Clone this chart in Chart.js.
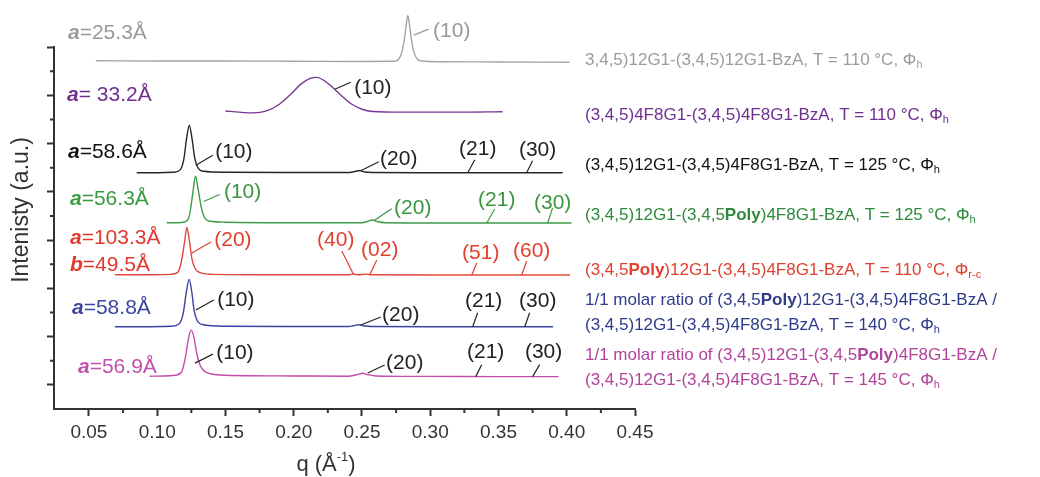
<!DOCTYPE html>
<html>
<head>
<meta charset="utf-8">
<script src="https://cdn.jsdelivr.net/npm/chart.js@4.4.0/dist/chart.umd.min.js"></script>
<style>
  html, body { margin: 0; padding: 0; background: #fff; }
  #wrap { width: 1040px; height: 477px; position: relative; }
</style>
</head>
<body>
<div id="wrap"><canvas id="saxs"></canvas></div>
<script>
// q (1/Å) and stacked intensity (a.u., offset per trace)
const grayQ = [0.055, 0.10, 0.15, 0.20, 0.25, 0.272, 0.276, 0.279, 0.281, 0.2825, 0.2835, 0.2845, 0.286, 0.288, 0.2905, 0.294, 0.30, 0.35, 0.402];
const grayI = [14.43, 14.42, 14.42, 14.41, 14.40, 14.41, 14.45, 14.75, 15.3, 15.95, 16.31, 16.05, 15.4, 14.8, 14.5, 14.42, 14.40, 14.38, 14.37];

const purpleQ = [0.150, 0.160, 0.170, 0.180, 0.190, 0.198, 0.205, 0.212, 0.217, 0.222, 0.228, 0.235, 0.242, 0.250, 0.258, 0.280, 0.320, 0.353];
const purpleI = [12.35, 12.30, 12.27, 12.35, 12.65, 13.05, 13.45, 13.70, 13.74, 13.62, 13.35, 12.98, 12.65, 12.42, 12.33, 12.30, 12.30, 12.32];

const blackQ = [0.085, 0.100, 0.112, 0.117, 0.1195, 0.1215, 0.1235, 0.1255, 0.1275, 0.130, 0.134, 0.150, 0.200, 0.241, 0.2455, 0.2485, 0.252, 0.258, 0.300, 0.350, 0.397];
const blackI = [9.79, 9.79, 9.81, 9.92, 10.35, 11.2, 11.76, 11.2, 10.4, 9.98, 9.85, 9.81, 9.80, 9.80, 9.85, 9.88, 9.82, 9.80, 9.79, 9.79, 9.79];

const greenQ = [0.107, 0.115, 0.120, 0.1235, 0.126, 0.128, 0.130, 0.1325, 0.135, 0.139, 0.150, 0.200, 0.250, 0.2545, 0.2575, 0.261, 0.267, 0.300, 0.350, 0.4035];
const greenI = [7.72, 7.72, 7.75, 8.0, 8.9, 9.65, 9.1, 8.3, 7.9, 7.78, 7.74, 7.72, 7.72, 7.78, 7.83, 7.77, 7.72, 7.71, 7.71, 7.71];

const redQ = [0.069, 0.090, 0.110, 0.115, 0.1175, 0.1200, 0.1217, 0.1235, 0.1255, 0.128, 0.132, 0.140, 0.200, 0.240, 0.2435, 0.247, 0.2535, 0.257, 0.300, 0.350, 0.4025];
const redI = [5.56, 5.56, 5.58, 5.66, 6.05, 6.9, 7.52, 7.0, 6.2, 5.8, 5.64, 5.58, 5.56, 5.56, 5.60, 5.56, 5.59, 5.56, 5.55, 5.55, 5.55];

const blueQ = [0.069, 0.090, 0.110, 0.116, 0.119, 0.1215, 0.1234, 0.1252, 0.127, 0.129, 0.133, 0.150, 0.200, 0.240, 0.2445, 0.2475, 0.251, 0.257, 0.300, 0.350, 0.390];
const blueI = [3.41, 3.41, 3.43, 3.52, 3.95, 4.9, 5.37, 4.9, 4.1, 3.7, 3.5, 3.43, 3.42, 3.42, 3.46, 3.49, 3.45, 3.42, 3.41, 3.41, 3.41];

const magentaQ = [0.0945, 0.105, 0.113, 0.118, 0.1205, 0.123, 0.1248, 0.1268, 0.129, 0.1315, 0.135, 0.140, 0.150, 0.200, 0.240, 0.246, 0.2505, 0.2545, 0.260, 0.300, 0.350, 0.394];
const magentaI = [1.36, 1.37, 1.40, 1.55, 2.1, 2.95, 3.27, 3.0, 2.3, 1.8, 1.55, 1.45, 1.40, 1.37, 1.36, 1.42, 1.48, 1.42, 1.37, 1.35, 1.34, 1.34];

// axis ticks
const xTicks = [0.05, 0.10, 0.15, 0.20, 0.25, 0.30, 0.35, 0.40, 0.45];
const xMinorTicks = [0.075, 0.125, 0.175, 0.225, 0.275, 0.325, 0.375, 0.425];
const yMajorTicks = [1, 3, 5, 7, 9, 11, 13, 15];
const yMinorTicks = [2, 4, 6, 8, 10, 12, 14];

const FONT = '"Liberation Sans", Arial, Helvetica, sans-serif';
const AXIS_COLOR = '#333';

const colors = {
    gray: '#a4a4a4',
    purple: '#7a3790',
    black: '#262626',
    green: '#3e9b46',
    red: '#e2473a',
    blue: '#3d43a0',
    magenta: '#c44aab'
};

// Peak index labels: foot in data coords, leader tip and text centre as pixel offsets from foot
const peakNotes = [
    { q: 0.2879, y: 15.49, tip: [15, -6], txt: [38, -4], t: '(10)', c: '#999' },
    { q: 0.2301, y: 13.25, tip: [16, -7], txt: [38, -1], t: '(10)', c: '#222' },

    { q: 0.1283, y: 10.10, tip: [17, -10], txt: [38, -13], t: '(10)', c: '#222' },
    { q: 0.2491, y: 9.87, tip: [18, -9], txt: [38, -12], t: '(20)', c: '#222' },
    { q: 0.3275, y: 9.79, tip: [7, -13], txt: [10, -24], t: '(21)', c: '#222' },
    { q: 0.3706, y: 9.79, tip: [6, -12], txt: [11, -23], t: '(30)', c: '#222' },

    { q: 0.1340, y: 8.60, tip: [16, -7], txt: [39, -9], t: '(10)', c: '#3a963f' },
    { q: 0.2586, y: 7.80, tip: [18, -12], txt: [39, -13], t: '(20)', c: '#3a963f' },
    { q: 0.3414, y: 7.71, tip: [8, -14], txt: [10, -23], t: '(21)', c: '#3a963f' },
    { q: 0.3860, y: 7.71, tip: [5, -15], txt: [5, -20], t: '(30)', c: '#3a963f' },

    { q: 0.1254, y: 6.46, tip: [19, -11], txt: [41, -13], t: '(20)', c: '#e0402e' },
    { q: 0.2440, y: 5.55, tip: [-12, -24], txt: [-18, -35], t: '(40)', c: '#e0402e' },
    { q: 0.2557, y: 5.55, tip: [7, -15], txt: [10, -25], t: '(02)', c: '#e0402e' },
    { q: 0.3304, y: 5.55, tip: [5, -12], txt: [9, -22], t: '(51)', c: '#e0402e' },
    { q: 0.3670, y: 5.55, tip: [5, -14], txt: [10, -24], t: '(60)', c: '#e0402e' },

    { q: 0.1283, y: 4.10, tip: [18, -10], txt: [40, -10], t: '(10)', c: '#222' },
    { q: 0.2491, y: 3.48, tip: [20, -8], txt: [40, -10], t: '(20)', c: '#222' },
    { q: 0.3311, y: 3.41, tip: [5, -14], txt: [11, -26], t: '(21)', c: '#222' },
    { q: 0.3692, y: 3.41, tip: [5, -14], txt: [13, -26], t: '(30)', c: '#222' },

    { q: 0.1276, y: 1.90, tip: [18, -9], txt: [40, -10], t: '(10)', c: '#222' },
    { q: 0.2542, y: 1.49, tip: [17, -8], txt: [37, -10], t: '(20)', c: '#222' },
    { q: 0.3333, y: 1.34, tip: [6, -12], txt: [10, -24], t: '(21)', c: '#222' },
    { q: 0.3750, y: 1.34, tip: [7, -12], txt: [11, -24], t: '(30)', c: '#222' }
];

// lattice parameter labels on the left (pixel layout)
const cellLabels = [
    { x: 68, y: 33, c: '#9a9a9a', parts: [{ t: 'a', bi: true }, { t: '=25.3Å' }] },
    { x: 67, y: 95, c: '#6f2f8f', parts: [{ t: 'a', bi: true }, { t: '= 33.2Å' }] },
    { x: 68, y: 152, c: '#111', parts: [{ t: 'a', bi: true }, { t: '=58.6Å' }] },
    { x: 70, y: 199, c: '#3a9a40', parts: [{ t: 'a', bi: true }, { t: '=56.3Å' }] },
    { x: 70, y: 238, c: '#e03a2e', parts: [{ t: 'a', bi: true }, { t: '=103.3Å' }] },
    { x: 70, y: 265, c: '#e03a2e', parts: [{ t: 'b', bi: true }, { t: '=49.5Å' }] },
    { x: 72, y: 308, c: '#3a45a0', parts: [{ t: 'a', bi: true }, { t: '=58.8Å' }] },
    { x: 78, y: 367, c: '#c050b0', parts: [{ t: 'a', bi: true }, { t: '=56.9Å' }] }
];

// sample descriptions on the right
const sampleLabels = [
    { y: 60, c: '#9c9c9c', parts: [{ t: '3,4,5)12G1-(3,4,5)12G1-BzA, T = 110 °C, Φ' }, { t: 'h', sub: true }] },
    { y: 115, c: '#6f2f8f', parts: [{ t: '(3,4,5)4F8G1-(3,4,5)4F8G1-BzA, T = 110 °C, Φ' }, { t: 'h', sub: true }] },
    { y: 165, c: '#111', parts: [{ t: '(3,4,5)12G1-(3,4,5)4F8G1-BzA, T = 125 °C, Φ' }, { t: 'h', sub: true }] },
    { y: 215, c: '#2f8a3c', parts: [{ t: '(3,4,5)12G1-(3,4,5' }, { t: 'Poly', b: true }, { t: ')4F8G1-BzA, T = 125 °C, Φ' }, { t: 'h', sub: true }] },
    { y: 270, c: '#e0402e', parts: [{ t: '(3,4,5' }, { t: 'Poly', b: true }, { t: ')12G1-(3,4,5)4F8G1-BzA, T = 110 °C, Φ' }, { t: 'r-c', sub: true }] },
    { y: 300, c: '#2d3b8a', parts: [{ t: '1/1 molar ratio of (3,4,5' }, { t: 'Poly', b: true }, { t: ')12G1-(3,4,5)4F8G1-BzA /' }] },
    { y: 325, c: '#2d3b8a', parts: [{ t: '(3,4,5)12G1-(3,4,5)4F8G1-BzA, T = 140 °C, Φ' }, { t: 'h', sub: true }] },
    { y: 355, c: '#b0449c', parts: [{ t: '1/1 molar ratio of (3,4,5)12G1-(3,4,5' }, { t: 'Poly', b: true }, { t: ')4F8G1-BzA /' }] },
    { y: 380, c: '#b0449c', parts: [{ t: '(3,4,5)12G1-(3,4,5)4F8G1-BzA, T = 145 °C, Φ' }, { t: 'h', sub: true }] }
];

function series(q, intensity, color) {
    return {
        data: q.map((x, i) => ({ x: x, y: intensity[i] })),
        borderColor: color,
        borderWidth: 1.4,
        pointRadius: 0,
        cubicInterpolationMode: 'monotone',
        fill: false,
        clip: false
    };
}

// draws a run of text pieces with bold / italic / subscript parts
function drawRich(ctx, x, y, parts, size, color) {
    ctx.fillStyle = color;
    ctx.textAlign = 'left';
    ctx.textBaseline = 'middle';
    parts.forEach(p => {
        let fs = p.sub ? Math.round(size * 0.62) : size;
        let style = (p.bi ? 'italic bold ' : '') + (p.b ? 'bold ' : '');
        ctx.font = style + fs + 'px ' + FONT;
        ctx.fillText(p.t, x, p.sub ? y + size * 0.3 : y);
        x += ctx.measureText(p.t).width;
    });
}

const decorations = {
    id: 'decorations',
    afterDraw(chart) {
        const ctx = chart.ctx;
        const xs = chart.scales.x;
        const ys = chart.scales.y;
        const area = chart.chartArea;
        ctx.save();

        // minor ticks
        ctx.strokeStyle = AXIS_COLOR;
        ctx.lineWidth = 2;
        ctx.beginPath();
        xMinorTicks.forEach(v => {
            const px = xs.getPixelForValue(v);
            ctx.moveTo(px, area.bottom);
            ctx.lineTo(px, area.bottom + 4);
        });
        yMinorTicks.forEach(v => {
            const py = ys.getPixelForValue(v);
            ctx.moveTo(area.left, py);
            ctx.lineTo(area.left - 4, py);
        });
        ctx.stroke();

        // peak index labels with leader lines
        ctx.lineWidth = 1.2;
        peakNotes.forEach(n => {
            const fx = xs.getPixelForValue(n.q);
            const fy = ys.getPixelForValue(n.y);
            ctx.strokeStyle = n.c;
            ctx.beginPath();
            ctx.moveTo(fx, fy);
            ctx.lineTo(fx + n.tip[0], fy + n.tip[1]);
            ctx.stroke();
            ctx.fillStyle = n.c;
            ctx.font = '21px ' + FONT;
            ctx.textAlign = 'center';
            ctx.textBaseline = 'middle';
            ctx.fillText(n.t, fx + n.txt[0], fy + n.txt[1]);
        });

        cellLabels.forEach(l => drawRich(ctx, l.x, l.y, l.parts, 21, l.c));
        sampleLabels.forEach(l => drawRich(ctx, 585, l.y, l.parts, 17, l.c));

        // axis titles
        ctx.fillStyle = AXIS_COLOR;
        ctx.font = '23px ' + FONT;
        ctx.textAlign = 'center';
        ctx.textBaseline = 'middle';
        ctx.save();
        ctx.translate(22, 210);
        ctx.rotate(-Math.PI / 2);
        ctx.fillText('Intenisty (a.u.)', 0, 0);
        ctx.restore();

        const a = 'q (Å', sup = '-1', b = ')';
        ctx.font = '22px ' + FONT;
        const wa = ctx.measureText(a).width, wb = ctx.measureText(b).width;
        ctx.font = '13px ' + FONT;
        const ws = ctx.measureText(sup).width;
        let tx = 326 - (wa + ws + wb) / 2;
        ctx.textAlign = 'left';
        ctx.font = '22px ' + FONT;
        ctx.fillText(a, tx, 465);
        ctx.font = '13px ' + FONT;
        ctx.fillText(sup, tx + wa, 457);
        ctx.font = '22px ' + FONT;
        ctx.fillText(b, tx + wa + ws, 465);

        ctx.restore();
    }
};

new Chart(document.getElementById('saxs'), {
    type: 'line',
    data: {
        datasets: [
            series(grayQ, grayI, colors.gray),
            series(purpleQ, purpleI, colors.purple),
            series(blackQ, blackI, colors.black),
            series(greenQ, greenI, colors.green),
            series(redQ, redI, colors.red),
            series(blueQ, blueI, colors.blue),
            series(magentaQ, magentaI, colors.magenta)
        ]
    },
    options: {
        responsive: true,
        maintainAspectRatio: false,
        animation: false,
        layout: { padding: { left: 47, top: 47, right: 405, bottom: 0 } },
        plugins: {
            legend: { display: false },
            tooltip: { enabled: false }
        },
        scales: {
            x: {
                type: 'linear',
                position: 'bottom',
                min: 0.0244,
                max: 0.45,
                afterBuildTicks: scale => { scale.ticks = xTicks.map(v => ({ value: v })); },
                afterFit: scale => { scale.height = 68; },
                ticks: {
                    autoSkip: false,
                    maxRotation: 0,
                    padding: 5,
                    color: AXIS_COLOR,
                    font: { family: FONT, size: 19 },
                    callback: v => v.toFixed(2)
                },
                grid: { drawOnChartArea: false, tickLength: 7, tickWidth: 2, tickColor: AXIS_COLOR },
                border: { width: 2, color: AXIS_COLOR }
            },
            y: {
                type: 'linear',
                min: 0,
                max: 15,
                afterBuildTicks: scale => { scale.ticks = yMajorTicks.map(v => ({ value: v })); },
                afterFit: scale => { scale.width = 7; },
                ticks: { display: false },
                grid: { drawOnChartArea: false, tickLength: 7, tickWidth: 2, tickColor: AXIS_COLOR },
                border: { width: 2, color: AXIS_COLOR }
            }
        }
    },
    plugins: [decorations]
});
</script>
</body>
</html>
